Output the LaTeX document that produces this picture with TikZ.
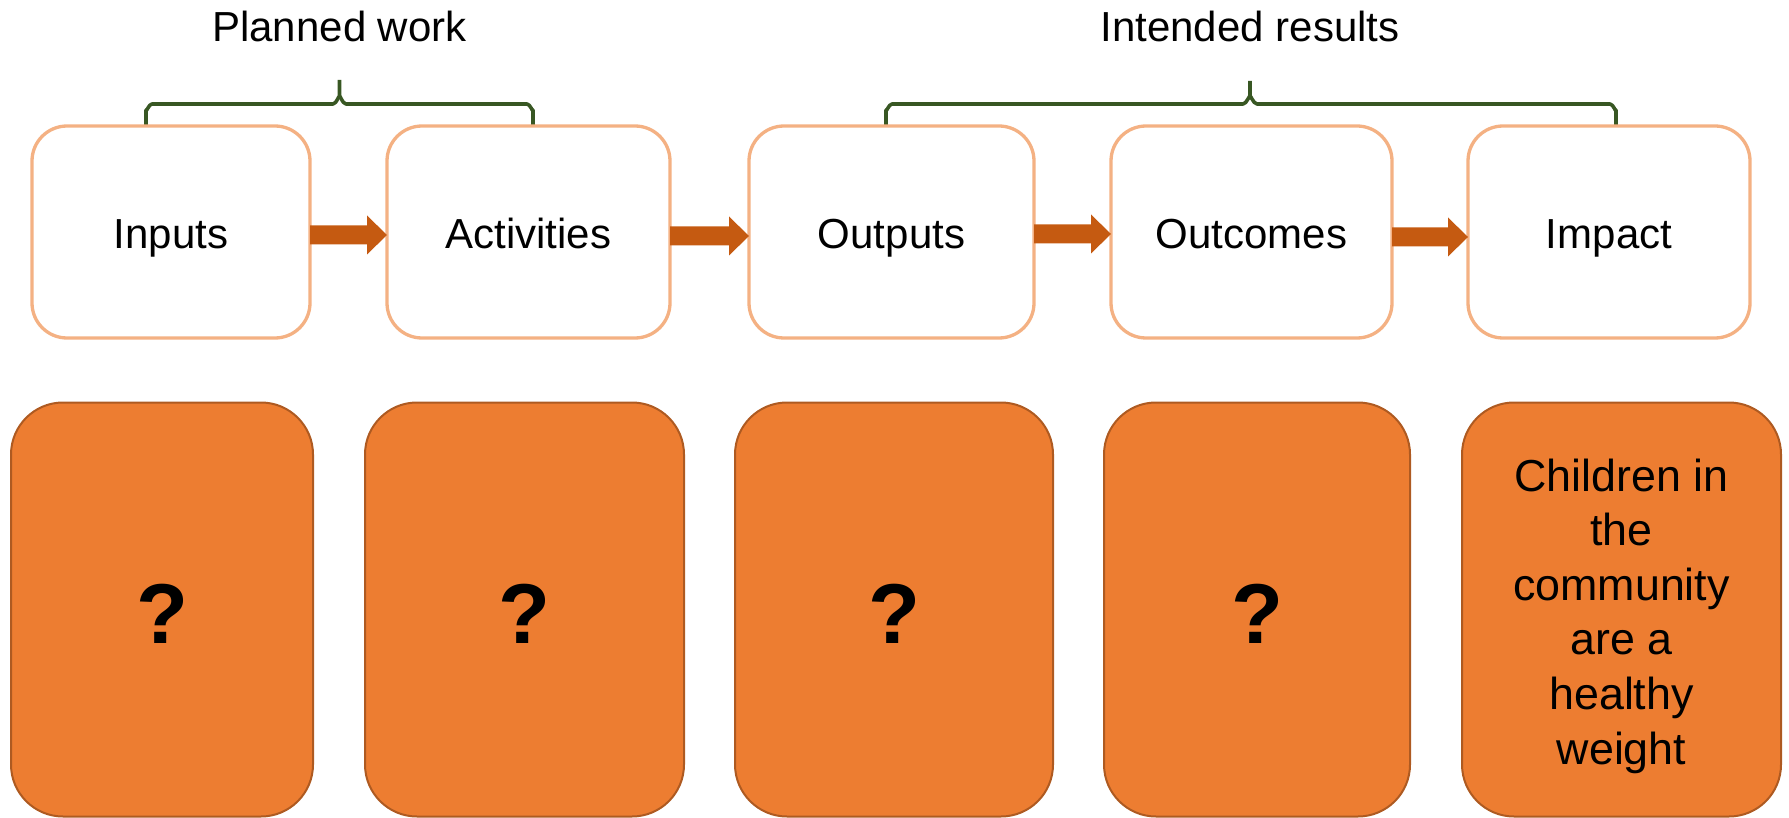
\documentclass[tikz,border=0pt]{standalone}
\usepackage{fontspec}
\setmainfont{Liberation Sans}
\usetikzlibrary{calc}
\definecolor{topline}{HTML}{F4B183}
\definecolor{arrowc}{HTML}{C55A11}
\definecolor{bracec}{HTML}{385723}
\definecolor{botfill}{HTML}{ED7D31}
\definecolor{botline}{HTML}{AE5A21}
\tikzset{
  topbox/.style={draw=topline, line width=1.65pt, fill=white, rounded corners=17.5pt,
    minimum height=106pt, inner sep=0pt, outer sep=0pt},
  botbox/.style={draw=botline, line width=1pt, fill=botfill, rounded corners=26pt,
    minimum height=207pt, inner sep=0pt, outer sep=0pt},
  lbl/.style={font=\fontsize{21}{25}\selectfont, anchor=base, inner sep=0pt},
  qm/.style={font=\fontsize{42.5}{50}\selectfont\bfseries, anchor=base, inner sep=0pt},
  bracepath/.style={draw=bracec, line width=1.8pt, line join=round},
}
\newcommand{\flowarrow}[3]{%
  \fill[arrowc] let \p1=([yshift=#3]#1.east), \p2=([yshift=#3]#2.west) in
    (\x1,\y1+4.75pt) -- (\x2-10pt,\y1+4.75pt) -- (\x2-10pt,\y1+9.75pt) -- (\x2,\y1)
    -- (\x2-10pt,\y1-9.75pt) -- (\x2-10pt,\y1-4.75pt) -- (\x1,\y1-4.75pt) -- cycle;}
\begin{document}
\begin{tikzpicture}[x=0.5pt,y=-0.5pt]
\useasboundingbox (0,0) rectangle (1789,818);
% titles
\node[lbl] (tplan) at (339.5,42) {Planned work};
\node[lbl] (tint) at (1250,42) {Intended results};
% braces
\draw[bracepath] (146,128) -- (146,110) to[out=-90,in=180] (152,104) -- (333,104)
  to[out=0,in=90] (339.5,97) -- (339.5,80);
\draw[bracepath] (339.5,97) to[out=90,in=180] (346,104) -- (527,104)
  to[out=0,in=-90] (533,110) -- (533,128);
\draw[bracepath] (886,128) -- (886,110) to[out=-90,in=180] (892,104) -- (1243,104)
  to[out=0,in=90] (1250,97) -- (1250,81);
\draw[bracepath] (1250,97) to[out=90,in=180] (1257,104) -- (1610,104)
  to[out=0,in=-90] (1616,110) -- (1616,128);
% top boxes
\node[topbox, minimum width=139pt] (inputs) at (171,232) {};
\node[topbox, minimum width=141.5pt] (activities) at (528.5,232) {};
\node[topbox, minimum width=142.5pt] (outputs) at (891.5,232) {};
\node[topbox, minimum width=140.5pt] (outcomes) at (1251.5,232) {};
\node[topbox, minimum width=141pt] (impact) at (1609,232) {};
\node[lbl] (linputs) at (171,249) {Inputs};
\node[lbl] (lactivities) at (528.5,249) {Activities};
\node[lbl] (loutputs) at (891.5,249) {Outputs};
\node[lbl] (loutcomes) at (1251.5,249) {Outcomes};
\node[lbl] (limpact) at (1609,249) {Impact};
% arrows
\flowarrow{inputs}{activities}{-1.5pt}
\flowarrow{activities}{outputs}{-2pt}
\flowarrow{outputs}{outcomes}{-1pt}
\flowarrow{outcomes}{impact}{-2.5pt}
% bottom boxes
\node[botbox, minimum width=151pt] (b1) at (162,609.5) {};
\node[botbox, minimum width=159.5pt] (b2) at (524.5,609.5) {};
\node[botbox, minimum width=159pt] (b3) at (894,609.5) {};
\node[botbox, minimum width=153pt] (b4) at (1257,609.5) {};
\node[botbox, minimum width=159.5pt] (b5) at (1621.5,609.5) {};
\node[qm] (q1) at (162,643) {?};
\node[qm] (q2) at (524.5,643) {?};
\node[qm] (q3) at (894,643) {?};
\node[qm] (q4) at (1257,643) {?};
\node[font=\fontsize{22.4}{27.3}\selectfont, align=center, inner sep=0pt] (impacttext) at (1621.5,616)
  {Children in\\the\\community\\are a\\healthy\\weight};
\end{tikzpicture}
\end{document}
